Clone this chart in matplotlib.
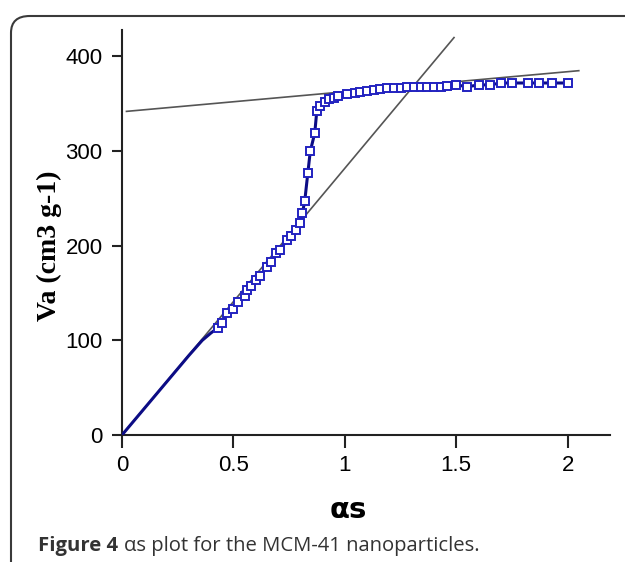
import numpy as np
import matplotlib.pyplot as plt
from matplotlib.patches import FancyBboxPatch

# alpha-s plot data
alpha_s = [0.0, 0.05, 0.10, 0.15, 0.20, 0.25, 0.30, 0.36, 0.40,
           0.43, 0.45, 0.47, 0.50, 0.52, 0.55, 0.56, 0.58, 0.60, 0.62,
           0.65, 0.67, 0.69, 0.71, 0.74, 0.76, 0.78, 0.80, 0.81, 0.82,
           0.834, 0.845, 0.865, 0.874, 0.89, 0.91, 0.93, 0.95, 0.97, 1.01,
           1.045, 1.07, 1.10, 1.13, 1.16, 1.19, 1.22, 1.25, 1.28, 1.31,
           1.34, 1.37, 1.40, 1.43, 1.46, 1.50, 1.55, 1.60, 1.65, 1.70,
           1.75, 1.82, 1.87, 1.93, 2.00]
va = [0, 14, 28, 42, 56, 70, 84, 100, 108,
      113, 118, 129, 133, 141, 147, 153, 157, 164, 168,
      178, 183, 192, 196, 206, 210, 217, 224, 235, 247,
      277, 300, 319, 342, 348, 352, 355, 356, 358, 360,
      361, 363, 364, 365, 366, 367, 367, 367, 368, 368,
      368, 368, 368, 368, 369, 370, 368, 370, 370, 372,
      372, 372, 372, 372, 372]
first_marker = 9

# fitted straight lines
plateau_x = [0.02, 2.05]
plateau_y = [342, 385]
steep_x = [0.0, 1.49]
steep_y = [0, 420]

xticks = [0, 0.5, 1, 1.5, 2]
xticklabels = ['0', '0.5', '1', '1.5', '2']
yticks = [0, 100, 200, 300, 400]

plt.rcParams['font.family'] = ['Liberation Sans', 'DejaVu Sans']

fig = plt.figure(figsize=(6.25, 5.62), dpi=100)

frame = FancyBboxPatch((11/625, 1 - 700/562), 700/625, 684/562,
                       boxstyle="round,pad=0,rounding_size=0.03",
                       transform=fig.transFigure, fill=False,
                       edgecolor='#3a3a3a', linewidth=1.5)
fig.patches.append(frame)

ax = fig.add_axes([122/625, 1 - 435/562, 488/625, 405/562])

ax.plot(plateau_x, plateau_y, color='#555555', linewidth=1.2, zorder=2)
ax.plot(steep_x, steep_y, color='#555555', linewidth=1.2, zorder=2)
ax.plot(alpha_s, va, color='#0c0c85', linewidth=2.2, zorder=3,
        marker='s', markersize=5.8, markerfacecolor='white',
        markeredgecolor='#2222c0', markeredgewidth=1.4,
        markevery=list(range(first_marker, len(alpha_s))))

ax.set_xlim(0, 2.19)
ax.set_ylim(0, 428)
ax.spines['top'].set_visible(False)
ax.spines['right'].set_visible(False)
for s in ['left', 'bottom']:
    ax.spines[s].set_linewidth(1.5)
    ax.spines[s].set_color('#222222')

ax.set_xticks(xticks)
ax.set_xticklabels(xticklabels)
ax.set_yticks(yticks)
ax.tick_params(axis='y', length=7, width=1.5, color='#222222',
               labelsize=16, pad=7)
ax.tick_params(axis='x', length=9.5, width=1.5, color='#222222',
               labelsize=16, pad=5)

fig.text(49/625, 1 - 246/562, 'Va (cm3 g-1)', family='Liberation Serif',
         fontweight='bold', fontsize=20, rotation=90,
         ha='center', va='center')
fig.text(348/625, 1 - 510/562, 'αs', family='DejaVu Sans',
         fontweight='bold', fontsize=21, ha='center', va='center')

fig.canvas.draw()
r = fig.canvas.get_renderer()
t1 = fig.text(38/625, 1 - 546/562, 'Figure 4', family='Open Sans',
              fontweight='bold', fontsize=14.6, color='#333333', va='center')
bb = t1.get_window_extent(renderer=r)
fig.text(bb.x1 / fig.bbox.width + 6/625, 1 - 546/562,
         'αs plot for the MCM-41 nanoparticles.', family='Open Sans',
         fontsize=14.6, color='#333333', va='center')

fig.savefig('out.png', dpi=100)
